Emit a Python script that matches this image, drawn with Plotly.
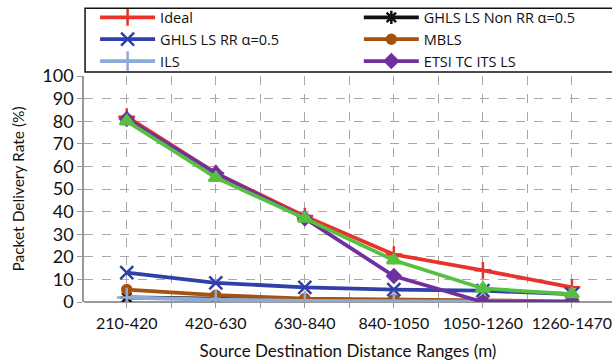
import plotly.graph_objects as go

# Distance ranges on the x axis
ranges = ["210-420", "420-630", "630-840", "840-1050", "1050-1260", "1260-1470"]

# Packet delivery rate (%) per scheme
ideal = [82, 57, 38, 21, 14, 6.5]
ghls_non_rr = [2, 1.5, 0.5, 0.5, 0, 0]
ghls_rr = [13, 8.5, 6.5, 5.5, 5, 3.5]
mbls = [5.5, 3, 1.5, 1, 0.5, 0.3]
ils = [2, 1, 0.5, 0.3, 0, 0]
etsi = [81, 57, 37, 11.5, 0, 0]
extra = [80, 55, 37, 18.5, 6, 3.5]

x = list(range(len(ranges)))

# (name, values, colour, marker, size, legend id)
series = [
    ("Ideal", ideal, "#e8322b", "cross-thin", 12, "legend"),
    ("GHLS LS Non RR \u03b1=0.5", ghls_non_rr, "#111111", "asterisk", 11, "legend2"),
    ("GHLS LS RR \u03b1=0.5", ghls_rr, "#3040a8", "x-thin", 13, "legend"),
    ("MBLS", mbls, "#a4520e", "circle", 9, "legend2"),
    ("ILS", ils, "#8eaad6", "cross-thin", 14, "legend"),
    ("ETSI TC ITS LS", etsi, "#7030a0", "diamond", 10, "legend2"),
    ("", extra, "#56c040", "triangle-up", 12, None),
]

fig = go.Figure()
for name, vals, color, sym, size, leg in series:
    fig.add_trace(go.Scatter(
        x=x, y=vals, name=name, mode="lines+markers",
        showlegend=leg is not None, legend=leg or "legend",
        line=dict(color=color, width=3.8),
        marker=dict(symbol=sym, size=size, color=color,
                    line=dict(color=color, width=2.5)),
    ))

font = "Lato, 'Open Sans', sans-serif"
legend_common = dict(
    orientation="v", xanchor="left", y=1.33, yanchor="top",
    itemwidth=55, font=dict(size=14.5, family="'Open Sans', sans-serif"),
    bgcolor="rgba(0,0,0,0)", borderwidth=0, tracegroupgap=0,
    itemclick=False, itemdoubleclick=False,
)

fig.update_layout(
    width=612, height=364,
    margin=dict(l=84, r=0, t=76, b=62),
    plot_bgcolor="white", paper_bgcolor="white",
    font=dict(family=font, color="#111111"),
    showlegend=True,
    legend=dict(x=0.021, **legend_common),
    legend2=dict(x=0.5205, **legend_common),
    shapes=[dict(type="rect", xref="paper", yref="paper",
                 x0=0.002, x1=1.05, y0=1.018, y1=1.3,
                 line=dict(color="#111111", width=1.5))],
)

fig.update_xaxes(
    range=[-0.48, 5.45], tickvals=x, ticktext=ranges,
    tickfont=dict(size=16), ticks="", ticklabeloverflow="allow",
    ticklabelstandoff=10,
    showgrid=True, gridcolor="#a8a8a8", griddash="dash", gridwidth=1,
    minor=dict(tick0=-0.5, dtick=0.5, showgrid=True, gridcolor="#a8a8a8",
               griddash="dash", ticks="outside", ticklen=5, tickcolor="#999999"),
    zeroline=False, showline=False,
    title=dict(text="Source Destination Distance Ranges (m)", font=dict(size=17), standoff=14),
)
fig.update_yaxes(
    range=[0, 100], dtick=10, tickfont=dict(size=18),
    showgrid=True, gridcolor="#a8a8a8", griddash="dash", gridwidth=1,
    ticks="outside", ticklen=5, tickcolor="#999999",
    showline=True, linecolor="#999999", linewidth=1.5,
    zeroline=True, zerolinecolor="#999999", zerolinewidth=1.5,
    title=dict(text="Packet Delivery Rate (%)", font=dict(size=15.5), standoff=14),
)

fig.write_html("out.html")
